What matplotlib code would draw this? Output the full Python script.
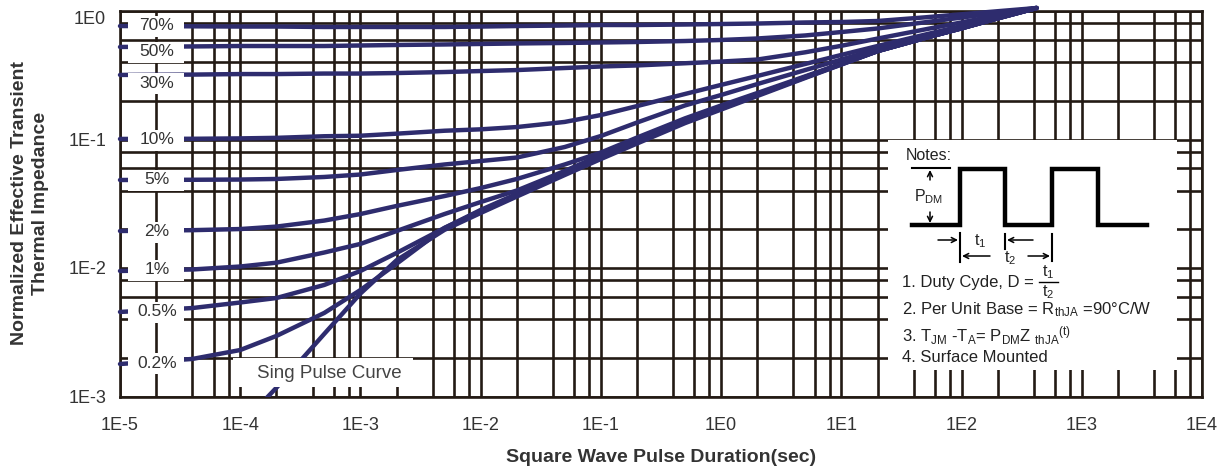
import matplotlib
matplotlib.use('Agg')
import matplotlib.pyplot as plt
from matplotlib.patches import Rectangle
from matplotlib.ticker import LogLocator, NullFormatter, FixedLocator, FixedFormatter

plt.rcParams['font.family'] = ['Liberation Sans', 'DejaVu Sans']
plt.rcParams['mathtext.fontset'] = 'custom'
plt.rcParams['mathtext.rm'] = 'Liberation Sans'
plt.rcParams['mathtext.it'] = 'Liberation Sans'
plt.rcParams['mathtext.bf'] = 'Liberation Sans:bold'

# pulse duration (s) sampled along every duty-cycle curve
t = [1e-5, 4e-5, 1e-4, 2e-4, 5e-4, 1e-3, 2e-3, 5e-3, 1e-2, 2e-2, 5e-2, 0.1,
     0.2, 0.5, 1, 2, 5, 10, 20, 50, 100, 200, 420]

z70 = [0.764, 0.76, 0.757, 0.757, 0.751, 0.751, 0.751, 0.751, 0.757, 0.764, 0.771, 0.778,
       0.778, 0.785, 0.792, 0.799, 0.814, 0.821, 0.836, 0.893, 0.943, 0.996, 1.055]
z50 = [0.525, 0.53, 0.534, 0.534, 0.534, 0.539, 0.544, 0.549, 0.554, 0.559, 0.564, 0.569,
       0.574, 0.584, 0.595, 0.611, 0.645, 0.686, 0.731, 0.818, 0.889, 0.967, 1.055]
z30 = [0.318, 0.32, 0.323, 0.323, 0.326, 0.326, 0.329, 0.335, 0.341, 0.347, 0.360, 0.370,
       0.377, 0.392, 0.404, 0.419, 0.477, 0.536, 0.610, 0.720, 0.815, 0.926, 1.055]
z10 = [0.101, 0.1013, 0.102, 0.103, 0.106, 0.107, 0.111, 0.117, 0.120, 0.125, 0.137, 0.155,
       0.182, 0.226, 0.266, 0.312, 0.387, 0.455, 0.534, 0.656, 0.764, 0.898, 1.055]
z5 = [0.0484, 0.0486, 0.0488, 0.0493, 0.0511, 0.0534, 0.0579, 0.0639, 0.068, 0.0724, 0.0874, 0.1065,
      0.1356, 0.184, 0.222, 0.270, 0.347, 0.419, 0.506, 0.622, 0.731, 0.882, 1.055]
z2 = [0.0194, 0.0197, 0.0201, 0.0210, 0.0234, 0.0263, 0.0304, 0.0363, 0.0419, 0.0493, 0.0639, 0.0792,
      0.1036, 0.146, 0.184, 0.230, 0.310, 0.389, 0.488, 0.618, 0.735, 0.877, 1.055]
z1 = [0.00948, 0.00974, 0.01027, 0.0110, 0.0132, 0.0154, 0.0194, 0.0263, 0.0326, 0.0401, 0.0569, 0.0757,
      0.0991, 0.1405, 0.178, 0.225, 0.306, 0.387, 0.487, 0.618, 0.735, 0.877, 1.055]
z05 = [0.00455, 0.00488, 0.00539, 0.00584, 0.00738, 0.00948, 0.0131, 0.0205, 0.0283, 0.0377, 0.0549, 0.0737,
       0.0974, 0.139, 0.176, 0.224, 0.306, 0.387, 0.488, 0.618, 0.735, 0.877, 1.055]
z02 = [0.00179, 0.00196, 0.0023, 0.00296, 0.00447, 0.00674, 0.0108, 0.0205, 0.0278, 0.0370, 0.0539, 0.0718,
       0.0956, 0.137, 0.174, 0.222, 0.304, 0.384, 0.488, 0.618, 0.735, 0.877, 1.055]

t_single = [1.6e-4, 2e-4, 5e-4, 1e-3, 2e-3, 5e-3, 1e-2, 2e-2, 5e-2, 0.1,
            0.2, 0.5, 1, 2, 5, 10, 20, 50, 100, 200, 420]
z_single = [0.00094, 0.00117, 0.00307, 0.00633, 0.0115, 0.0198, 0.0268, 0.0360, 0.0529, 0.0705,
            0.0931, 0.134, 0.171, 0.218, 0.301, 0.383, 0.487, 0.618, 0.735, 0.877, 1.055]

duty_curves = [z70, z50, z30, z10, z5, z2, z1, z05, z02]
duty_labels = ["70%", "50%", "30%", "10%", "5%", "2%", "1%", "0.5%", "0.2%"]

x_ticks = [1e-5, 1e-4, 1e-3, 1e-2, 1e-1, 1, 10, 100, 1e3, 1e4]
x_ticklabels = ["1E-5", "1E-4", "1E-3", "1E-2", "1E-1", "1E0", "1E1", "1E2", "1E3", "1E4"]
y_ticks = [1e-3, 1e-2, 1e-1, 1]
y_ticklabels = ["1E-3", "1E-2", "1E-1", "1E0"]

W, H = 1231, 472
X0, X1, Y0, Y1 = 120, 1202, 396.5, 11   # axes frame in pixels


def ref(px, py):
    # pixel position in the picture -> axes fraction
    return (px - X0) / (X1 - X0), (Y0 - py) / (Y0 - Y1)


navy = '#2e2c6e'
gridc = '#231a14'
txtc = '#222222'

fig = plt.figure(figsize=(W / 100, H / 100), dpi=100)
ax = fig.add_axes([X0 / W, 1 - Y0 / H, (X1 - X0) / W, (Y0 - Y1) / H])
ax.set_xscale('log')
ax.set_yscale('log')
ax.set_xlim(1e-5, 1e4)
ax.set_ylim(1e-3, 1)

for z in duty_curves:
    ax.plot(t, z, color=navy, lw=3.2, zorder=3, clip_on=False,
            solid_capstyle='round', solid_joinstyle='round')
ax.plot(t_single, z_single, color=navy, lw=3.2, zorder=3, solid_joinstyle='round')

ax.xaxis.set_major_locator(FixedLocator(x_ticks))
ax.xaxis.set_major_formatter(FixedFormatter(x_ticklabels))
ax.yaxis.set_major_locator(FixedLocator(y_ticks))
ax.yaxis.set_major_formatter(FixedFormatter(y_ticklabels))
for axis in (ax.xaxis, ax.yaxis):
    axis.set_minor_locator(LogLocator(base=10, subs=(2, 4, 6, 8), numticks=20))
    axis.set_minor_formatter(NullFormatter())
ax.set_axisbelow(True)
ax.grid(which='both', color=gridc, lw=1.9)
ax.tick_params(which='both', length=0, labelsize=13, labelcolor='#333333')
ax.tick_params(axis='x', pad=15)
ax.tick_params(axis='y', pad=10)
ax.get_yticklabels()[-1].set_va('top')
for s in ax.spines.values():
    s.set_color(gridc)
    s.set_linewidth(1.9)

# duty-cycle labels on white boxes
label_py = [26, 52, 83, 140, 180, 232, 270, 312, 363]
for lab, py in zip(duty_labels, label_py):
    x0, y0 = ref(128, py + 11)
    x1, y1 = ref(184, py - 10)
    ax.add_patch(Rectangle((x0, y0), x1 - x0, y1 - y0, transform=ax.transAxes,
                           fc='white', ec='none', zorder=4))
    ax.text(*ref(157, py), lab, transform=ax.transAxes, ha='center', va='center',
            fontsize=12.5, color='#333333', zorder=5)

# single pulse label
x0, y0 = ref(233, 387)
x1, y1 = ref(413, 358)
ax.add_patch(Rectangle((x0, y0), x1 - x0, y1 - y0, transform=ax.transAxes,
                       fc='white', ec='none', zorder=4))
ax.text(*ref(257, 373), "Sing Pulse Curve", transform=ax.transAxes, ha='left', va='center',
        fontsize=13.5, color='#444444', zorder=5)

# notes panel
x0, y0 = ref(888, 370)
x1, y1 = ref(1177, 140)
ax.add_patch(Rectangle((x0, y0), x1 - x0, y1 - y0, transform=ax.transAxes,
                       fc='white', ec='none', zorder=2.5))
ax.text(*ref(906, 155), "Notes:", transform=ax.transAxes, ha='left', va='center',
        fontsize=11.5, color=txtc, zorder=6)

wave_px = [912, 960, 960, 1005, 1005, 1052, 1052, 1098, 1098, 1147]
wave_py = [225, 225, 169, 169, 225, 225, 169, 169, 225, 225]
wx, wy = zip(*[ref(a, b) for a, b in zip(wave_px, wave_py)])
ax.plot(wx, wy, color='black', lw=3.2, transform=ax.transAxes, zorder=6,
        solid_joinstyle='miter', clip_on=False)


def seg(p, q, lw=1.2):
    (a, b), (c, d) = ref(*p), ref(*q)
    ax.plot([a, c], [b, d], color='black', lw=lw, transform=ax.transAxes, zorder=6)


def arrow(p, q):
    ax.annotate('', xy=ref(*q), xytext=ref(*p), xycoords='axes fraction',
                textcoords='axes fraction', zorder=6,
                arrowprops=dict(arrowstyle='->', lw=1.1, color='black',
                                shrinkA=0, shrinkB=0, mutation_scale=9))


seg((912, 168), (950, 168), lw=1.5)
arrow((930, 180), (930, 170))
arrow((930, 212), (930, 223))
ax.text(*ref(929, 197), "P$_{DM}$", transform=ax.transAxes, ha='center', va='center',
        fontsize=11.5, color=txtc, zorder=6)

seg((960, 233), (960, 262), lw=1.5)
seg((1005, 234), (1005, 249), lw=1.5)
seg((1052, 234), (1052, 261), lw=1.5)
arrow((938, 240), (958, 240))
arrow((1033, 240), (1007, 240))
ax.text(*ref(980, 241), "t$_1$", transform=ax.transAxes, ha='center', va='center',
        fontsize=11.5, color=txtc, zorder=6)
arrow((990, 256), (962, 256))
arrow((1028, 256), (1050, 256))
ax.text(*ref(1010, 258), "t$_2$", transform=ax.transAxes, ha='center', va='center',
        fontsize=11.5, color=txtc, zorder=6)

ax.text(*ref(902, 283), "1. Duty Cyde, D =", transform=ax.transAxes, ha='left', va='center',
        fontsize=12, color=txtc, zorder=6)
ax.text(*ref(1048, 272), "t$_1$", transform=ax.transAxes, ha='center', va='center',
        fontsize=11.5, color=txtc, zorder=6)
seg((1039, 282), (1058, 282), lw=1.0)
ax.text(*ref(1048, 292), "t$_2$", transform=ax.transAxes, ha='center', va='center',
        fontsize=11.5, color=txtc, zorder=6)
ax.text(*ref(902, 310), "2. Per Unit Base = R$_{thJA}$ =90°C/W", transform=ax.transAxes,
        ha='left', va='center', fontsize=12, color=txtc, zorder=6)
ax.text(*ref(902, 336), "3. T$_{JM}$ -T$_A$= P$_{DM}$Z $_{thJA}$$^{(t)}$", transform=ax.transAxes,
        ha='left', va='center', fontsize=12, color=txtc, zorder=6)
ax.text(*ref(902, 358), "4. Surface Mounted", transform=ax.transAxes, ha='left', va='center',
        fontsize=12, color=txtc, zorder=6)

fig.text(661 / W, 1 - 458 / H, "Square Wave Pulse Duration(sec)", ha='center', va='center',
         fontsize=14, fontweight='bold', color='#333333')
fig.text(30 / W, 1 - 203 / H, "Normalized Effective Transient\nThermal Impedance",
         rotation=90, ha='center', va='center', multialignment='center',
         fontsize=14, fontweight='bold', color='#333333', linespacing=1.25)

fig.savefig('out.png', dpi=100, facecolor='white')
